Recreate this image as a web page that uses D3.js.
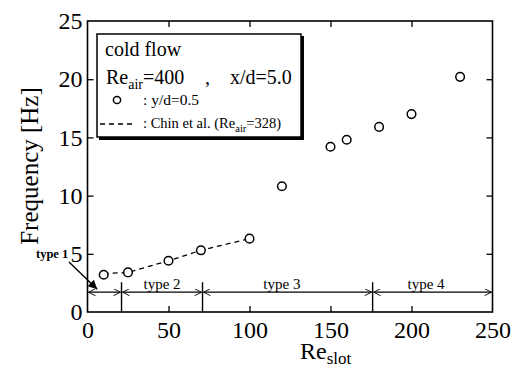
<!DOCTYPE html>
<html><head><meta charset="utf-8">
<script src="https://cdn.jsdelivr.net/npm/d3@7"></script>
<style>
html,body{margin:0;padding:0;background:#fff;}
svg{display:block;}
svg text{font-family:"Liberation Serif","Times New Roman",serif;fill:#000;}
</style></head>
<body>
<svg id="c" width="519" height="372"></svg>
<script>
// ---- data ----
const reSlot = [10, 25, 50, 70, 100, 120, 150, 160, 180, 200, 230];
const freq   = [3.2, 3.4, 4.4, 5.3, 6.3, 10.8, 14.2, 14.8, 15.9, 17.0, 20.2];
const chinX  = [10, 25, 50, 70, 100];
const chinY  = [3.3, 3.4, 4.4, 5.3, 6.3];
const xTicks = [0, 50, 100, 150, 200, 250];
const yTicks = [0, 5, 10, 15, 20, 25];
const typeBounds = [0, 21, 71, 176, 250];
const typeLabels = ["type 1", "type 2", "type 3", "type 4"];
const typeLabelX = [null, 46, 120, 209];
const typeLevel = 1.7;

const svg = d3.select("#c");
const L = 87.5, R = 492.5, T = 21, B = 312;
const x = d3.scaleLinear().domain([0, 250]).range([L, R]);
const y = d3.scaleLinear().domain([0, 25]).range([B, T]);

// defs
const defs = svg.append("defs");
defs.append("marker").attr("id","ah").attr("viewBox","0 0 10 10").attr("refX",10).attr("refY",5)
  .attr("markerWidth",9).attr("markerHeight",7).attr("markerUnits","userSpaceOnUse").attr("orient","auto-start-reverse")
  .append("path").attr("d","M0,0 L10,5 L0,10").attr("fill","none").attr("stroke","#000").attr("stroke-width",1.3);
defs.append("marker").attr("id","fa").attr("viewBox","0 0 10 10").attr("refX",10).attr("refY",5)
  .attr("markerWidth",12).attr("markerHeight",9).attr("markerUnits","userSpaceOnUse").attr("orient","auto")
  .append("path").attr("d","M0,0 L10,5 L0,10 Z").attr("fill","#000");

// frame
svg.append("rect").attr("x",L).attr("y",T).attr("width",R-L).attr("height",B-T)
  .attr("fill","none").attr("stroke","#000").attr("stroke-width",1.6);

// axes with inward ticks
const tk = 6;
const styleTxt = g => g.selectAll("text").attr("font-size",24).attr("font-family","Liberation Serif").attr("fill","#000");
svg.append("g").attr("transform",`translate(0,${B})`)
  .call(d3.axisBottom(x).tickValues(xTicks).tickSizeInner(-tk).tickSizeOuter(0).tickPadding(9).tickFormat(d3.format("d")))
  .call(g=>{g.select(".domain").remove();styleTxt(g);g.selectAll("line").attr("stroke-width",1.3);
    g.selectAll(".tick").filter(d=>d===0||d===250).select("line").remove();});
svg.append("g").attr("transform",`translate(0,${T})`)
  .call(d3.axisTop(x).tickValues(xTicks.slice(1,-1)).tickSizeInner(-tk).tickSizeOuter(0).tickFormat(""))
  .call(g=>{g.select(".domain").remove();g.selectAll("line").attr("stroke-width",1.3);});
svg.append("g").attr("transform",`translate(${L},0)`)
  .call(d3.axisLeft(y).tickValues(yTicks).tickSizeInner(-tk).tickSizeOuter(0).tickPadding(5))
  .call(g=>{g.select(".domain").remove();styleTxt(g);g.selectAll("line").attr("stroke-width",1.3);
    g.selectAll(".tick").filter(d=>d===0||d===25).select("line").remove();});
svg.append("g").attr("transform",`translate(${R},0)`)
  .call(d3.axisRight(y).tickValues(yTicks.slice(1,-1)).tickSizeInner(-tk).tickSizeOuter(0).tickFormat(""))
  .call(g=>{g.select(".domain").remove();g.selectAll("line").attr("stroke-width",1.3);});

// axis titles
svg.append("text").attr("transform",`translate(38,166) rotate(-90)`).attr("text-anchor","middle")
  .attr("font-size",25).text("Frequency [Hz]");
const xt = svg.append("text").attr("x",300).attr("y",359).attr("font-size",24);
xt.append("tspan").text("Re");
xt.append("tspan").attr("dy",5).attr("font-size",17).text("slot");

// Chin et al dashed line
svg.append("path").datum(chinX.map((d,i)=>[d,chinY[i]]))
  .attr("d", d3.line().x(d=>x(d[0])).y(d=>y(d[1])))
  .attr("fill","none").attr("stroke","#000").attr("stroke-width",1.3).attr("stroke-dasharray","5,4");

// data points
svg.append("g").selectAll("circle").data(reSlot).join("circle")
  .attr("cx",d=>x(d)).attr("cy",(d,i)=>y(freq[i])).attr("r",4.3)
  .attr("fill","#fff").attr("stroke","#000").attr("stroke-width",1.5);

// type regions
const ty = y(typeLevel);
const tg = svg.append("g");
for (let i=0;i<typeBounds.length-1;i++){
  const a = x(typeBounds[i]), b = x(typeBounds[i+1]);
  tg.append("line").attr("x1",a+1).attr("x2",b-1).attr("y1",ty).attr("y2",ty)
    .attr("stroke","#000").attr("stroke-width",1.3)
    .attr("marker-start","url(#ah)").attr("marker-end","url(#ah)");
}
typeBounds.slice(1,-1).forEach(v=>{
  tg.append("line").attr("x1",x(v)).attr("x2",x(v)).attr("y1",ty-10).attr("y2",B)
    .attr("stroke","#000").attr("stroke-width",1.4);
});
typeLabels.forEach((t,i)=>{
  if (typeLabelX[i]===null) return;
  tg.append("text").attr("x",x(typeLabelX[i])).attr("y",ty-3).attr("text-anchor","middle")
    .attr("font-size",15).text(t);
});
// type 1 callout
svg.append("text").attr("x",36).attr("y",258).attr("font-size",12.5).attr("font-weight","bold").text(typeLabels[0]);
svg.append("line").attr("x1",69).attr("y1",262).attr("x2",x(6)).attr("y2",ty-3)
  .attr("stroke","#000").attr("stroke-width",1.4).attr("marker-end","url(#fa)");

// legend
const lg = svg.append("g");
lg.append("rect").attr("x",99).attr("y",36).attr("width",205).attr("height",104).attr("fill","#000");
lg.append("rect").attr("x",97).attr("y",34).attr("width",204).attr("height",103)
  .attr("fill","#fff").attr("stroke","#000").attr("stroke-width",1.5);
lg.append("text").attr("x",105).attr("y",56).attr("font-size",20).text("cold flow");
const t2 = lg.append("text").attr("x",106).attr("y",84).attr("font-size",20);
t2.append("tspan").text("Re");
t2.append("tspan").attr("dy",5).attr("font-size",14).text("air");
t2.append("tspan").attr("dy",-5).text("=400");
lg.append("text").attr("x",205).attr("y",84).attr("font-size",20).text(",");
lg.append("text").attr("x",230).attr("y",84).attr("font-size",20).text("x/d=5.0");
lg.append("circle").attr("cx",117).attr("cy",100).attr("r",3.6).attr("fill","#fff").attr("stroke","#000").attr("stroke-width",1.5);
lg.append("text").attr("x",143).attr("y",105).attr("font-size",15.5).text(": y/d=0.5");
lg.append("line").attr("x1",100).attr("x2",136).attr("y1",124).attr("y2",124)
  .attr("stroke","#000").attr("stroke-width",1.3).attr("stroke-dasharray","5,4");
const t4 = lg.append("text").attr("x",143).attr("y",128).attr("font-size",14.5);
t4.append("tspan").text(": Chin et al. (Re");
t4.append("tspan").attr("dy",4).attr("font-size",10.5).text("air");
t4.append("tspan").attr("dy",-4).text("=328)");
</script>
</body></html>
